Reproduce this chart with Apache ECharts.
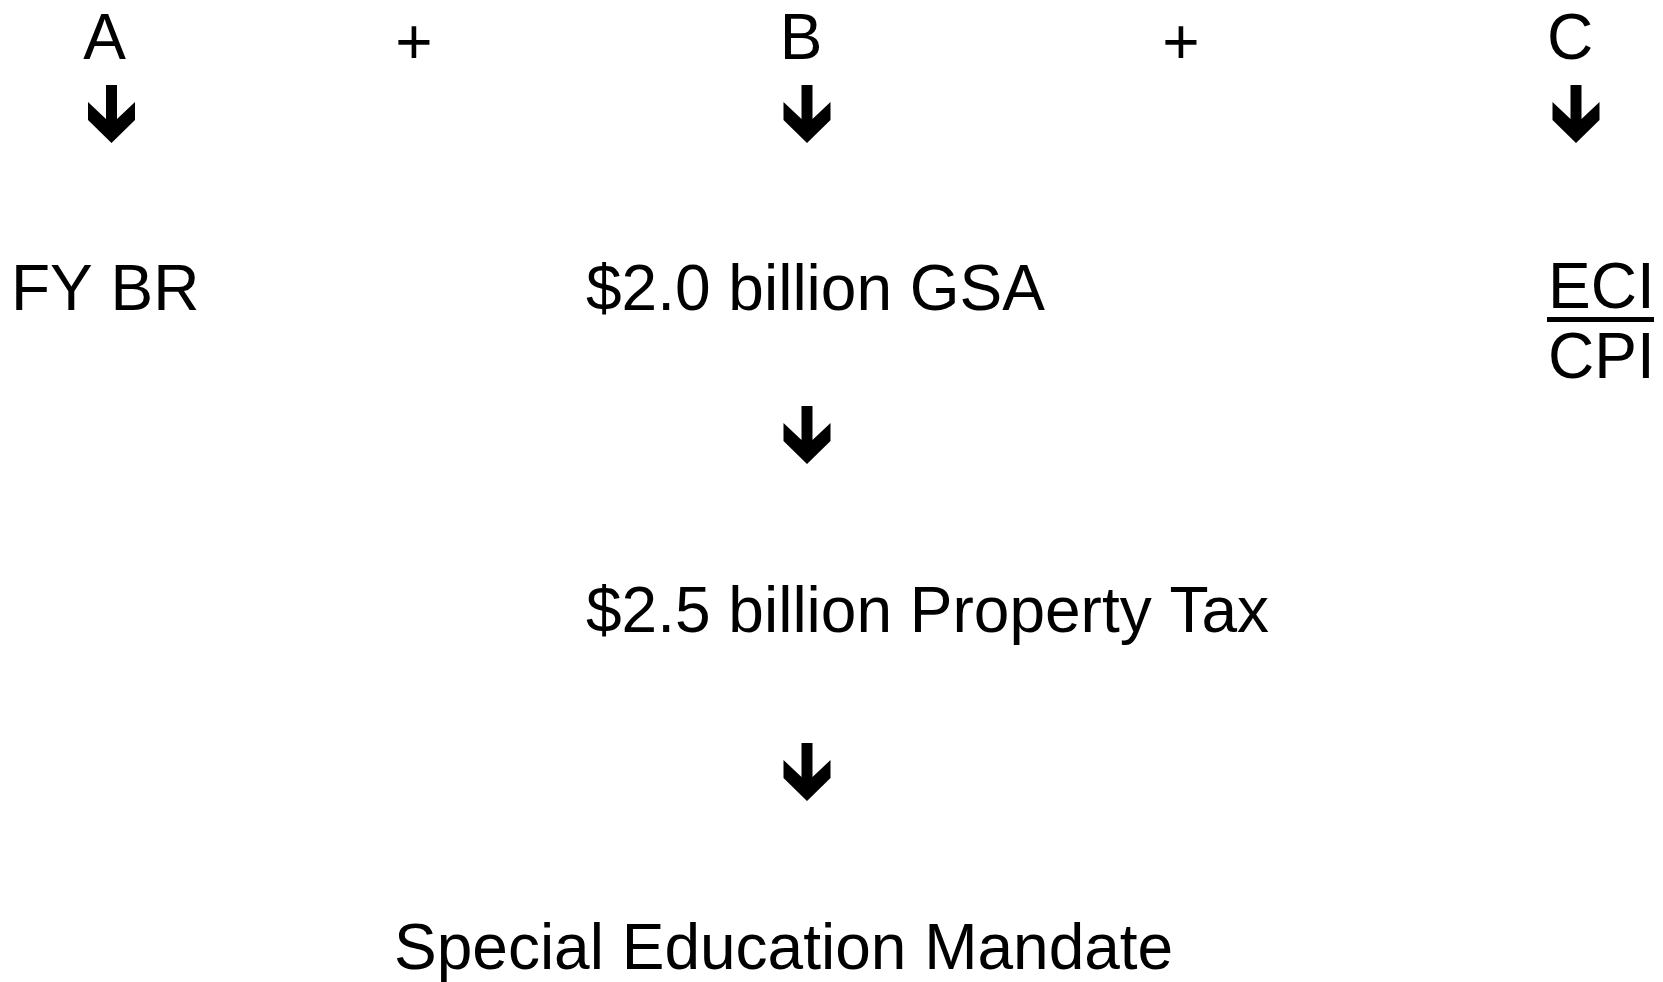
<!DOCTYPE html>
<html>
<head>
<meta charset="utf-8">
<script src="https://cdn.jsdelivr.net/npm/echarts@6/dist/echarts.min.js"></script>
<style>
  html, body { margin: 0; padding: 0; background: #fff; }
  #chart { width: 1663px; height: 982px; }
</style>
</head>
<body>
<div id="chart"></div>
<script>
// diagram text nodes (x,y in page-like units of the hidden value axes)
var nodeText = ['A', '+', 'B', '+', 'C', 'FY BR', '$2.0 billion GSA', 'ECI', 'CPI',
  '$2.5 billion Property Tax', 'Special Education Mandate'];
var nodeX = [104.5, 414, 801, 1181, 1570, 11, 586, 1548, 1548, 586, 394];
var nodeY = [41, 46, 41, 46, 41, 292, 292, 290, 360, 614, 951];
var nodeAlign = ['center', 'center', 'center', 'center', 'center', 'left', 'left', 'left', 'left', 'left', 'left'];

// down arrows
var arrowX = [111.5, 807, 1576, 807, 807];
var arrowY = [114, 114, 114, 435, 772];

// fraction bar under ECI
var barX = [1600.5];
var barY = [319.5];

var arrowPath = 'path://M18 0 L29 0 L29 34 L47 17 L47 35 L23.5 58 L0 35 L0 17 L18 34 Z';

var myChart = echarts.init(document.getElementById('chart'));

var option = {
  backgroundColor: '#ffffff',
  animation: false,
  grid: { left: 0, right: 0, top: 0, bottom: 0 },
  xAxis: { type: 'value', min: 0, max: 1663, show: false },
  yAxis: { type: 'value', min: 0, max: 982, inverse: true, show: false },
  series: [{
    type: 'scatter',
    symbolSize: 0,
    silent: true,
    itemStyle: { opacity: 1 },
    data: nodeText.map(function(t, i) {
      return {
        value: [nodeX[i], nodeY[i]],
        name: t,
        label: { align: nodeAlign[i] }
      };
    }),
    label: {
      show: true,
      position: 'inside',
      formatter: '{b}',
      color: '#000',
      opacity: 1,
      fontFamily: 'Liberation Sans, Arial, sans-serif',
      fontSize: 64,
      verticalAlign: 'middle'
    }
  }, {
    type: 'scatter',
    symbol: arrowPath,
    symbolSize: [47, 58],
    silent: true,
    itemStyle: { color: '#000', opacity: 1 },
    data: arrowX.map(function(x, i) { return [x, arrowY[i]]; })
  }, {
    type: 'scatter',
    symbol: 'rect',
    symbolSize: [107, 5],
    silent: true,
    itemStyle: { color: '#000', opacity: 1 },
    data: barX.map(function(x, i) { return [x, barY[i]]; })
  }]
};

myChart.setOption(option);
</script>
</body>
</html>
